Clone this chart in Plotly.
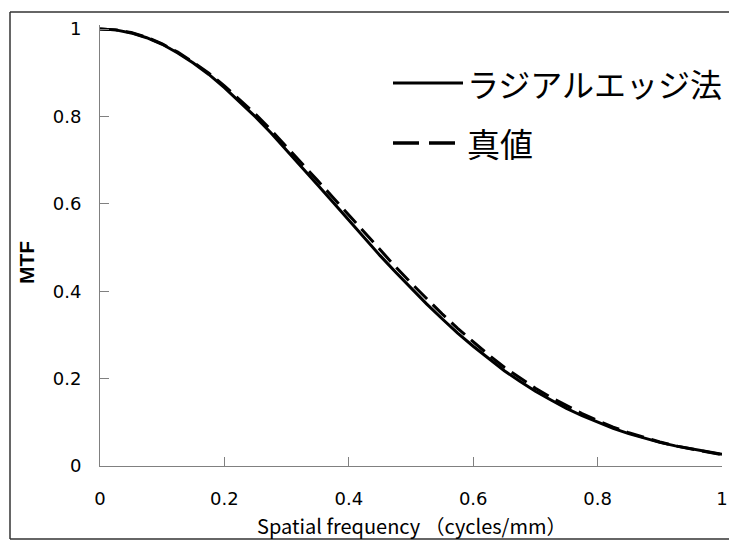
import plotly.graph_objects as go

# Spatial frequency samples (cycles/mm)
freq = [0.000, 0.025, 0.050, 0.075, 0.100, 0.125, 0.150, 0.175, 0.200, 0.225,
        0.250, 0.275, 0.300, 0.325, 0.350, 0.375, 0.400, 0.425, 0.450, 0.475,
        0.500, 0.525, 0.550, 0.575, 0.600, 0.625, 0.650, 0.675, 0.700, 0.725,
        0.750, 0.775, 0.800, 0.825, 0.850, 0.875, 0.900, 0.925, 0.950, 0.975,
        1.000]

# MTF measured with the radial edge method
mtf_radial = [1.000, 0.998, 0.991, 0.980, 0.965, 0.945, 0.922, 0.896, 0.866, 0.833,
              0.799, 0.762, 0.723, 0.684, 0.643, 0.603, 0.562, 0.522, 0.482, 0.444,
              0.407, 0.371, 0.337, 0.304, 0.274, 0.245, 0.218, 0.194, 0.171, 0.151,
              0.132, 0.115, 0.100, 0.086, 0.074, 0.064, 0.054, 0.046, 0.039, 0.033,
              0.027]

# True MTF
mtf_true = [1.000, 0.998, 0.992, 0.981, 0.966, 0.947, 0.924, 0.899, 0.870, 0.838,
            0.805, 0.769, 0.731, 0.693, 0.653, 0.614, 0.574, 0.534, 0.494, 0.456,
            0.419, 0.383, 0.348, 0.315, 0.284, 0.254, 0.226, 0.201, 0.178, 0.157,
            0.138, 0.120, 0.104, 0.089, 0.076, 0.065, 0.055, 0.046, 0.039, 0.032,
            0.026]

tick_vals = [0, 0.2, 0.4, 0.6, 0.8, 1]
tick_text = ["0", "0.2", "0.4", "0.6", "0.8", "1"]

series_names = ["ラジアルエッジ法", "真値"]

W, H = 729, 541
ML, MR, MT, MB = 100, 7, 25, 75
PW, PH = W - ML - MR, H - MT - MB
Y_TOP = 1.0 + 4 / 437  # small headroom so the y=1 line is not clipped


def px_x(px):
    return (px - ML) / PW


def px_y(py):
    return (H - MB - py) / PH


fig = go.Figure()
fig.add_trace(go.Scatter(x=freq, y=mtf_true, mode="lines", name=series_names[1],
                         line=dict(color="black", width=3, dash="18px,8px"),
                         showlegend=False))
fig.add_trace(go.Scatter(x=freq, y=mtf_radial, mode="lines", name=series_names[0],
                         line=dict(color="black", width=3),
                         showlegend=False))

axis_common = dict(
    showgrid=False, zeroline=False, showline=True, linecolor="#808080", linewidth=1,
    ticks="inside", ticklen=9, tickcolor="#808080", tickwidth=1,
    tickfont=dict(family="DejaVu Sans", size=18, color="black"),
    automargin=False,
)

fig.update_xaxes(range=[0, 1], tickvals=tick_vals, ticktext=tick_text,
                 ticklabelstandoff=16, **axis_common)
fig.update_yaxes(range=[0, Y_TOP], tickvals=tick_vals, ticktext=tick_text,
                 ticklabelstandoff=14, **axis_common)

frame_line = dict(color="#333333", width=1.5)
shapes = [
    # outer frame: top, left, bottom (the right side runs off the canvas)
    dict(type="line", xref="paper", yref="paper",
         x0=px_x(10), x1=px_x(729), y0=px_y(12), y1=px_y(12), line=frame_line),
    dict(type="line", xref="paper", yref="paper",
         x0=px_x(10), x1=px_x(10), y0=px_y(12), y1=px_y(539), line=frame_line),
    dict(type="line", xref="paper", yref="paper",
         x0=px_x(10), x1=px_x(729), y0=px_y(539), y1=px_y(539), line=frame_line),
    # legend samples
    dict(type="line", xref="paper", yref="paper",
         x0=px_x(393), x1=px_x(463), y0=px_y(83), y1=px_y(83),
         line=dict(color="black", width=3)),
    dict(type="line", xref="paper", yref="paper",
         x0=px_x(393), x1=px_x(419), y0=px_y(143), y1=px_y(143),
         line=dict(color="black", width=3.5)),
    dict(type="line", xref="paper", yref="paper",
         x0=px_x(429), x1=px_x(455), y0=px_y(143), y1=px_y(143),
         line=dict(color="black", width=3.5)),
]

cjk = "Noto Sans CJK JP"
annotations = [
    dict(text=series_names[0], x=px_x(465), y=px_y(83), xref="paper", yref="paper",
         xanchor="left", yanchor="middle", showarrow=False,
         font=dict(family=cjk, size=32, color="black")),
    dict(text=series_names[1], x=px_x(465), y=px_y(143), xref="paper", yref="paper",
         xanchor="left", yanchor="middle", showarrow=False,
         font=dict(family=cjk, size=33, color="black")),
    dict(text="Spatial frequency （cycles/mm）", x=px_x(411), y=px_y(525),
         xref="paper", yref="paper", xanchor="center", yanchor="middle",
         showarrow=False, font=dict(family=cjk, size=20, color="black")),
    dict(text="<b>MTF</b>", x=px_x(26), y=px_y(263), xref="paper", yref="paper",
         xanchor="center", yanchor="middle", textangle=-90, showarrow=False,
         font=dict(family="Liberation Sans", size=21, color="black")),
]

fig.update_layout(
    width=W, height=H,
    margin=dict(l=ML, r=MR, t=MT, b=MB),
    paper_bgcolor="white", plot_bgcolor="white",
    shapes=shapes, annotations=annotations,
    showlegend=False,
)

fig.write_html("out.html")
